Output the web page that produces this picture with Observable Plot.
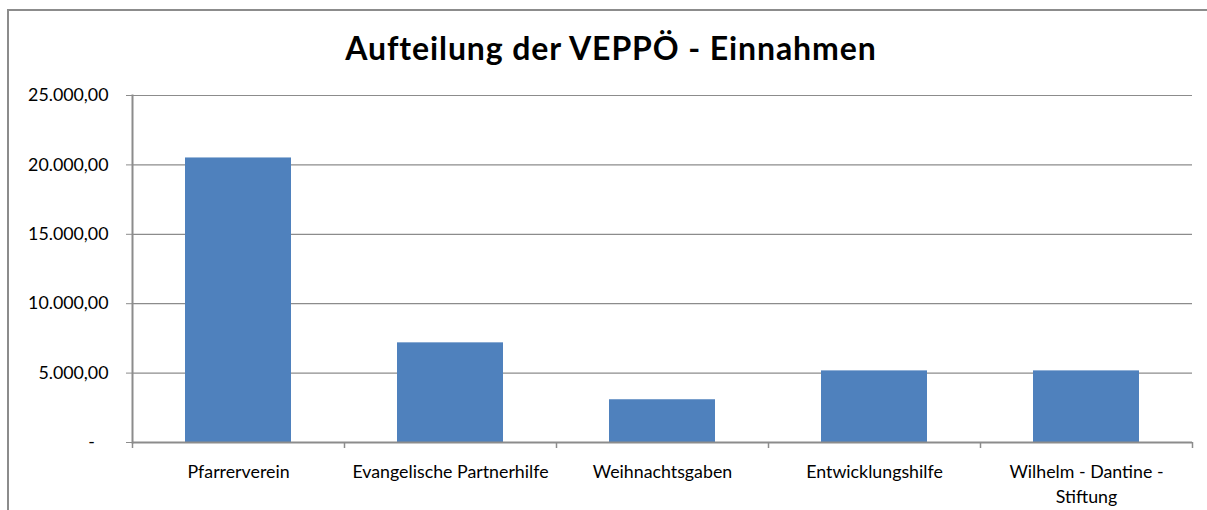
<!DOCTYPE html>
<html>
<head>
<meta charset="utf-8">
<script src="https://cdn.jsdelivr.net/npm/d3@7"></script>
<script src="https://cdn.jsdelivr.net/npm/@observablehq/plot@0.6"></script>
<style>
  body { margin: 0; background: #fff; }
  #wrap { position: relative; width: 1207px; height: 510px; overflow: hidden; }
  #border { position: absolute; left: 7px; top: 9px; width: 1300px; height: 600px;
            border-top: 2px solid #8c8c8c; border-left: 2px solid #8c8c8c; }
  #title { position: absolute; left: 8px; width: 1206px; top: 31.6px; text-align: center;
           font-family: Lato, sans-serif; font-weight: bold; font-size: 32px; line-height: 32px;
           letter-spacing: 0.9px; color: #000; white-space: nowrap; }
  #chart { position: absolute; left: 0; top: 0; }
</style>
</head>
<body>
<div id="wrap">
  <div id="border"></div>
  <div id="title"></div>
  <div id="chart"></div>
</div>
<script>
const titleText = "Aufteilung der VEPPÖ - Einnahmen";
const categories = ["Pfarrerverein", "Evangelische Partnerhilfe", "Weihnachtsgaben", "Entwicklungshilfe", "Wilhelm - Dantine - Stiftung"];
const values = [20500, 7180, 3080, 5160, 5160];
const yTicks = [0, 5000, 10000, 15000, 20000, 25000];

document.getElementById("title").textContent = titleText;

const de = d3.formatLocale({decimal: ",", thousands: ".", grouping: [3], currency: ["", " €"]});
const fmt2 = de.format(",.2f");
const yFormat = v => v === 0 ? "-\u00a0\u00a0\u00a0" : fmt2(v);
const wrapLabel = s => s.replace(/ - (\S+)$/, " -\n$1");

const data = categories.map((c, i) => ({category: c, value: values[i]}));

const W = 1207, H = 510;
const mL = 132, mR = 15, mT = 95, mB = 68;
const step = (W - mL - mR) / categories.length;
const font = "Lato, sans-serif";
const grid = "#8c8c8c";
const fs = 17.8;

const chart = Plot.plot({
  width: W,
  height: H,
  marginLeft: mL,
  marginRight: mR,
  marginTop: mT,
  marginBottom: mB,
  style: {fontFamily: font, fontSize: fs + "px", color: "#000", background: "transparent"},
  x: {domain: categories, paddingInner: 0.5, paddingOuter: 0.25, align: 0.5},
  y: {domain: [0, 25000]},
  marks: [
    Plot.gridY(yTicks, {stroke: grid, strokeOpacity: 1, strokeWidth: 1.2}),
    Plot.barY(data, {x: "category", y: "value", fill: "#4f81bd"}),
    Plot.ruleY([0], {stroke: grid, strokeWidth: 2}),
    Plot.frame({anchor: "left", stroke: grid, strokeWidth: 2}),
    Plot.axisY({ticks: yTicks, tickFormat: yFormat, tickSize: 6, tickPadding: 18, stroke: grid, strokeOpacity: 1, label: null, fontSize: fs}),
    Plot.axisX({tickSize: 6, tickFormat: () => "", dx: -step / 2, stroke: grid, strokeOpacity: 1, strokeWidth: 1.5, label: null}),
    Plot.axisX({ticks: [categories[categories.length - 1]], tickSize: 6, tickFormat: () => "", dx: step / 2, stroke: grid, strokeOpacity: 1, strokeWidth: 1.5, label: null}),
    Plot.axisX({tickSize: 0, tickPadding: 18, tickFormat: wrapLabel, lineHeight: 1.38, label: null, fontSize: fs})
  ]
});
document.getElementById("chart").appendChild(chart);
</script>
</body>
</html>
